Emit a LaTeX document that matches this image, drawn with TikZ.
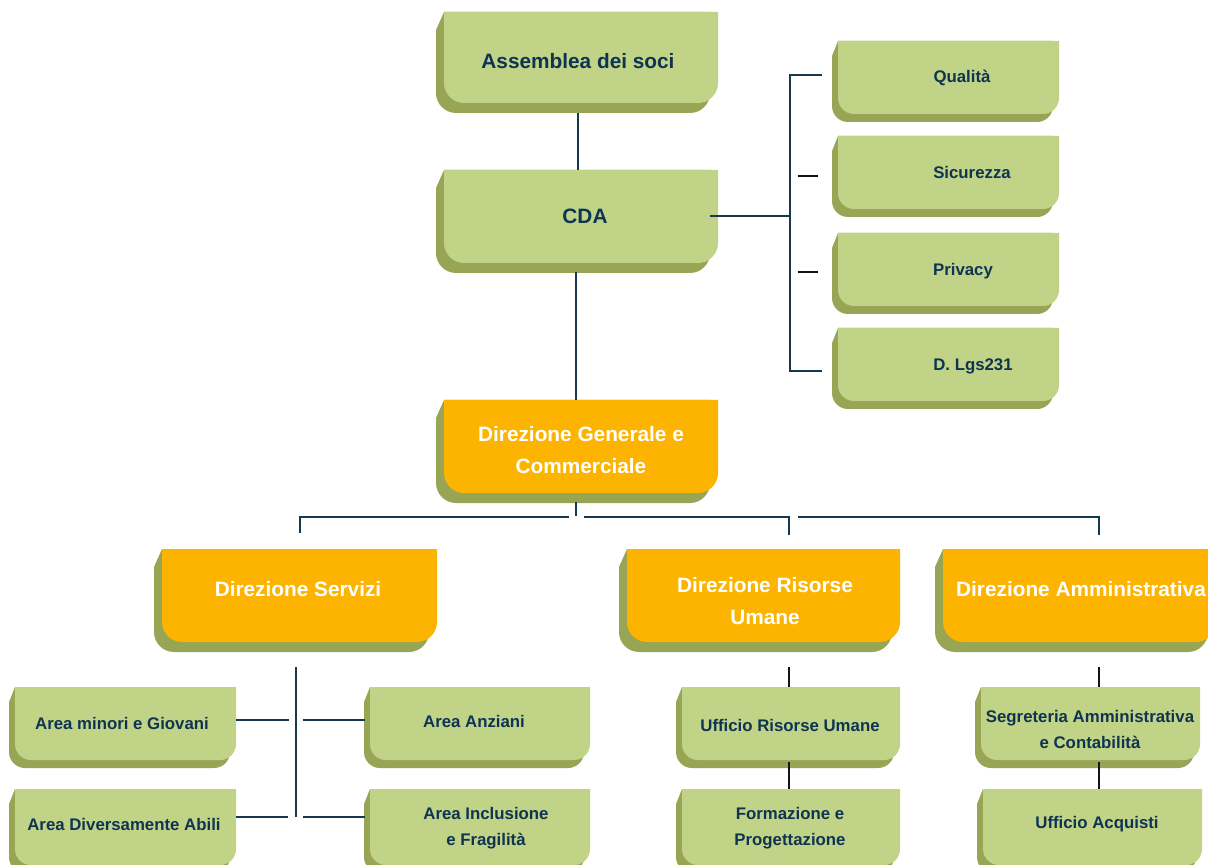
\documentclass[tikz,border=0pt]{standalone}
\usepackage{fontspec}
\setmainfont{Liberation Sans}
\usetikzlibrary{fit}

\definecolor{cardgreen}{HTML}{C1D387}
\definecolor{cardolive}{HTML}{97A555}
\definecolor{cardorange}{HTML}{FDB400}
\definecolor{inknavy}{HTML}{0E3452}
\definecolor{linenavy}{HTML}{17394F}
\definecolor{lineblack}{HTML}{141414}

% depth geometry per card kind: left shift, drop, chamfer, corner radius
\def\cdxbg{8}\def\cdybg{10}\def\cchbg{18}\def\crrbg{20}
\def\cdxbo{8}\def\cdybo{10}\def\cchbo{18}\def\crrbo{20}
\def\cdxsg{6}\def\cdysg{8}\def\cchsg{15}\def\crrsg{16}

\tikzset{
  carddepth/.style={fill=cardolive},
  facebg/.style={fill=cardgreen},
  facebo/.style={fill=cardorange},
  facesg/.style={fill=cardgreen},
  labelbg/.style={text=inknavy, font=\fontsize{10.4}{16}\selectfont\bfseries, align=center, inner sep=0pt},
  labelbo/.style={text=white, font=\fontsize{10.4}{16}\selectfont\bfseries, align=center, inner sep=0pt},
  labelsg/.style={text=inknavy, font=\fontsize{8.4}{13}\selectfont\bfseries, align=center, inner sep=0pt},
  conn/.style={draw=linenavy, line width=1pt},
  stubline/.style={draw=lineblack, line width=1pt},
}

% card: name, kind, x1, y1, x2, y2, text x, text y, text
\newcommand\orgcard[9]{%
  \pgfmathsetmacro\cardDX{\csname cdx#2\endcsname}%
  \pgfmathsetmacro\cardDY{\csname cdy#2\endcsname}%
  \pgfmathsetmacro\cardCH{\csname cch#2\endcsname}%
  \pgfmathsetmacro\cardR{\csname crr#2\endcsname}%
  \pgfmathsetmacro\cardK{0.45*\cardR}%
  \fill[carddepth] (#3,#4) -- (#3-\cardDX,#4+\cardCH) -- (#3-\cardDX,#6+\cardDY-\cardR)
     .. controls (#3-\cardDX,#6+\cardDY-\cardK) and (#3-\cardDX+\cardK,#6+\cardDY) .. (#3-\cardDX+\cardR,#6+\cardDY)
     -- (#5-\cardDX-\cardR,#6+\cardDY)
     .. controls (#5-\cardDX-\cardK,#6+\cardDY) and (#5-\cardDX,#6+\cardDY-\cardK) .. (#5-\cardDX,#6+\cardDY-\cardR)
     -- (#5-\cardDX,#4) -- cycle;
  \fill[face#2] (#3,#4) -- (#5,#4) -- (#5,#6-\cardR)
     .. controls (#5,#6-\cardK) and (#5-\cardK,#6) .. (#5-\cardR,#6)
     -- (#3+\cardR,#6)
     .. controls (#3+\cardK,#6) and (#3,#6-\cardK) .. (#3,#6-\cardR) -- cycle;
  \node[fit={(#3,#4) (#5,#6)}, inner sep=0pt] (#1) {};
  \node[label#2] (#1-text) at (#7,#8) {#9};
}

\begin{document}
\begin{tikzpicture}[x=0.5pt, y=-0.5pt]
  \useasboundingbox (0,0) rectangle (1208,865);
  \clip (0,0) rectangle (1208,865);
  \fill[white] (0,0) rectangle (1208,865);

  % governing bodies
  \orgcard{assemblea}{bg}{444}{12}{718}{103}{578}{61}{Assemblea dei soci}
  \orgcard{cda}{bg}{444}{170}{718}{263}{585}{216}{CDA}

  % staff functions
  \orgcard{qualita}{sg}{838}{41}{1059}{114}{962}{78}{Qualità}
  \orgcard{sicurezza}{sg}{838}{136}{1059}{209}{972}{173}{Sicurezza}
  \orgcard{privacy}{sg}{838}{233}{1059}{306}{963}{271}{Privacy}
  \orgcard{dlgs}{sg}{838}{328}{1059}{401}{973}{366}{D. Lgs231}

  % general management
  \orgcard{dirgen}{bo}{444}{400}{718}{493}{581}{450}{Direzione Generale e\\Commerciale}

  % directorates
  \orgcard{servizi}{bo}{162}{549}{437}{642}{298}{589}{Direzione Servizi}
  \orgcard{risorse}{bo}{627}{549}{900}{642}{765}{601}{Direzione Risorse\\Umane}
  \orgcard{amministrativa}{bo}{943}{549}{1216}{642}{1081}{589}{Direzione Amministrativa}

  % service areas
  \orgcard{minori}{sg}{15}{687}{236}{760}{122}{723}{Area minori e Giovani}
  \orgcard{abili}{sg}{15}{789}{236}{865}{124}{824}{Area Diversamente Abili}
  \orgcard{anziani}{sg}{370}{687}{590}{760}{474}{721}{Area Anziani}
  \orgcard{inclusione}{sg}{370}{789}{590}{865}{486}{828}{Area Inclusione\\e Fragilità}

  % offices
  \orgcard{ufficiorisorse}{sg}{682}{687}{900}{760}{790}{725}{Ufficio Risorse Umane}
  \orgcard{formazione}{sg}{682}{789}{900}{865}{790}{828}{Formazione e\\Progettazione}
  \orgcard{segreteria}{sg}{981}{687}{1200}{760}{1090}{729}{Segreteria Amministrativa\\e Contabilità}
  \orgcard{acquisti}{sg}{983}{789}{1202}{865}{1097}{824}{Ufficio Acquisti}

  % top spine
  \draw[conn] ([shift={(-3,10)}]assemblea.south) -- ([shift={(-3,0)}]cda.north);
  \draw[conn] ([shift={(-5,9)}]cda.south) -- ([shift={(-5,0)}]dirgen.north);

  % staff bus
  \coordinate (rbus) at ([shift={(-48,-2)}]qualita.west);
  \coordinate (dlgsend) at ([shift={(-16,7)}]dlgs.west);
  \draw[conn] ([shift={(-16,-2)}]qualita.west) -- (rbus) -- (rbus |- dlgsend) -- (dlgsend);
  \draw[conn] ([shift={(-8,0)}]cda.east) -- (cda.east -| rbus);
  \draw[stubline] ([shift={(-40,4)}]sicurezza.west) -- ([shift={(-20,4)}]sicurezza.west);
  \draw[stubline] ([shift={(-40,3)}]privacy.west) -- ([shift={(-20,3)}]privacy.west);

  % directorate bus
  \draw[conn] ([shift={(-5,9)}]dirgen.south) -- ([shift={(-5,23)}]dirgen.south);
  \coordinate (hbus) at ([shift={(0,24)}]dirgen.south);
  \coordinate (rdrop) at ([shift={(-2,-152)}]ufficiorisorse.north);
  \coordinate (adrop) at ([shift={(8.5,-152)}]segreteria.north);
  \draw[conn] ([shift={(-12,24)}]dirgen.south) -- (hbus -| servizi.north) -- ([shift={(0,-16)}]servizi.north);
  \draw[conn] ([shift={(3,24)}]dirgen.south) -- (hbus -| rdrop) -- (rdrop);
  \draw[conn] ([shift={(217,24)}]dirgen.south) -- (hbus -| adrop) -- (adrop);

  % service areas links
  \coordinate (sv) at ([shift={(-3.5,25)}]servizi.south);
  \coordinate (abend) at ([shift={(0,-10)}]abili.east);
  \draw[conn] (sv) -- (sv |- abend);
  \draw[conn] ([shift={(0,-3.5)}]minori.east) -- ([shift={(53,-3.5)}]minori.east);
  \draw[conn] ([shift={(-67,-3.5)}]anziani.west) -- ([shift={(-5,-3.5)}]anziani.west);
  \draw[conn] (abend) -- ([shift={(52,0)}]abend);
  \draw[conn] ([shift={(-67,-10)}]inclusione.west) -- ([shift={(-5,-10)}]inclusione.west);

  % office links
  \draw[stubline] ([shift={(-2,-20)}]ufficiorisorse.north) -- ([shift={(-2,0)}]ufficiorisorse.north);
  \draw[stubline] ([shift={(-2,2)}]ufficiorisorse.south) -- ([shift={(-2,0)}]formazione.north);
  \draw[stubline] ([shift={(8.5,-20)}]segreteria.north) -- ([shift={(8.5,0)}]segreteria.north);
  \draw[stubline] ([shift={(8.5,2)}]segreteria.south) -- ([shift={(6.5,0)}]acquisti.north);
\end{tikzpicture}
\end{document}
